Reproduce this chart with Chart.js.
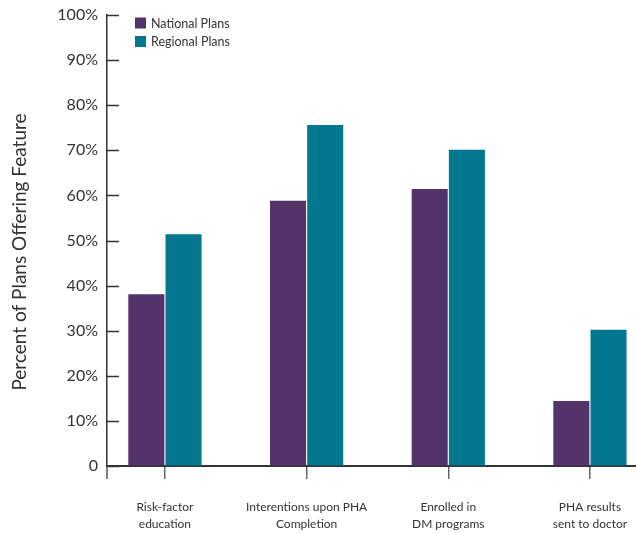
<!DOCTYPE html>
<html>
<head>
<meta charset="utf-8">
<script src="https://cdn.jsdelivr.net/npm/chart.js@4.4.1/dist/chart.umd.min.js"></script>
<style>
  html, body { margin: 0; padding: 0; background: #fff; }
  #wrap { width: 636px; height: 533px; position: relative; }
</style>
</head>
<body>
<div id="wrap"><canvas id="chart"></canvas></div>
<script>
// DATA
const categories = [
  ["Risk-factor", "education"],
  ["Interentions upon PHA", "Completion"],
  ["Enrolled in", "DM programs"],
  ["PHA results", "sent to doctor"]
];
const nationalPlans = [38.1, 58.8, 61.4, 14.4];
const regionalPlans = [51.4, 75.6, 70.1, 30.2];
const yTicks = [0, 10, 20, 30, 40, 50, 60, 70, 80, 90, 100];
const yTitle = "Percent of Plans Offering Feature";

const FONT = "Lato, 'Noto Sans', sans-serif";
const TEXT = "#333333";
const X_MIN = -0.409, X_MAX = 3.325;

const toPoints = vals => vals.map((v, i) => ({ x: i, y: v }));

// inward y ticks, axis stub below the origin, y title and legend
const extras = {
  id: "extras",
  afterDraw(chart) {
    const ctx = chart.ctx;
    const area = chart.chartArea;
    const y = chart.scales.y;
    ctx.save();
    ctx.strokeStyle = "#333333";
    ctx.lineWidth = 1.5;
    yTicks.forEach(v => {
      const py = Math.round(y.getPixelForValue(v)) + 0.5;
      ctx.beginPath();
      ctx.moveTo(area.left, py);
      ctx.lineTo(area.left + 12, py);
      ctx.stroke();
    });
    ctx.strokeStyle = "#555555";
    ctx.beginPath();
    ctx.moveTo(area.left, area.bottom);
    ctx.lineTo(area.left, area.bottom + 13);
    ctx.stroke();

    // y axis title
    ctx.save();
    ctx.translate(20, 252);
    ctx.rotate(-Math.PI / 2);
    ctx.font = "19px " + FONT;
    ctx.textAlign = "center";
    ctx.textBaseline = "middle";
    ctx.fillStyle = TEXT;
    ctx.fillText(yTitle, 0, 0);
    ctx.restore();

    // legend
    ctx.font = "12.5px " + FONT;
    ctx.textBaseline = "middle";
    chart.data.datasets.forEach((ds, i) => {
      const bx = area.left + 28, by = area.top + 2.5 + i * 18.5;
      ctx.fillStyle = ds.backgroundColor;
      ctx.fillRect(bx, by, 11, 11);
      ctx.fillStyle = TEXT;
      ctx.fillText(ds.label, bx + 16, by + 6);
    });
    ctx.restore();
  }
};

new Chart(document.getElementById("chart"), {
  type: "bar",
  data: {
    datasets: [
      { label: "National Plans", data: toPoints(nationalPlans), backgroundColor: "#54336b" },
      { label: "Regional Plans", data: toPoints(regionalPlans), backgroundColor: "#02778f" }
    ]
  },
  options: {
    responsive: true,
    maintainAspectRatio: false,
    animation: false,
    layout: { padding: { top: 15, right: 0, bottom: 0, left: 0 } },
    categoryPercentage: 0.525,
    barPercentage: 0.97,
    plugins: {
      legend: { display: false },
      tooltip: { enabled: false }
    },
    scales: {
      x: {
        type: "linear",
        offset: false,
        min: X_MIN,
        max: X_MAX,
        afterBuildTicks: s => { s.ticks = [0, 1, 2, 3].map(v => ({ value: v })); },
        afterFit: s => { s.height = 67; s.paddingLeft = 0; s.paddingRight = 0; },
        grid: { offset: false, drawOnChartArea: false, drawTicks: true, tickLength: 13, color: "#666666", lineWidth: 1.5 },
        border: { display: true, color: "#333333", width: 2 },
        ticks: {
          autoSkip: false,
          maxRotation: 0,
          padding: 20,
          color: TEXT,
          font: { family: FONT, size: 12, lineHeight: 1.4 },
          callback: v => Number.isInteger(v) ? categories[v] : ""
        }
      },
      y: {
        min: 0,
        max: 100,
        afterBuildTicks: s => { s.ticks = yTicks.map(v => ({ value: v })); },
        afterFit: s => { s.width = 107; s.paddingTop = 0; s.paddingBottom = 0; },
        grid: { display: true, drawOnChartArea: false, drawTicks: false },
        border: { display: true, color: "#333333", width: 1.5 },
        ticks: {
          padding: 9,
          color: TEXT,
          font: { family: FONT, size: 16 },
          callback: v => v === 0 ? "0" : v + "%"
        }
      }
    }
  },
  plugins: [extras]
});
</script>
</body>
</html>
